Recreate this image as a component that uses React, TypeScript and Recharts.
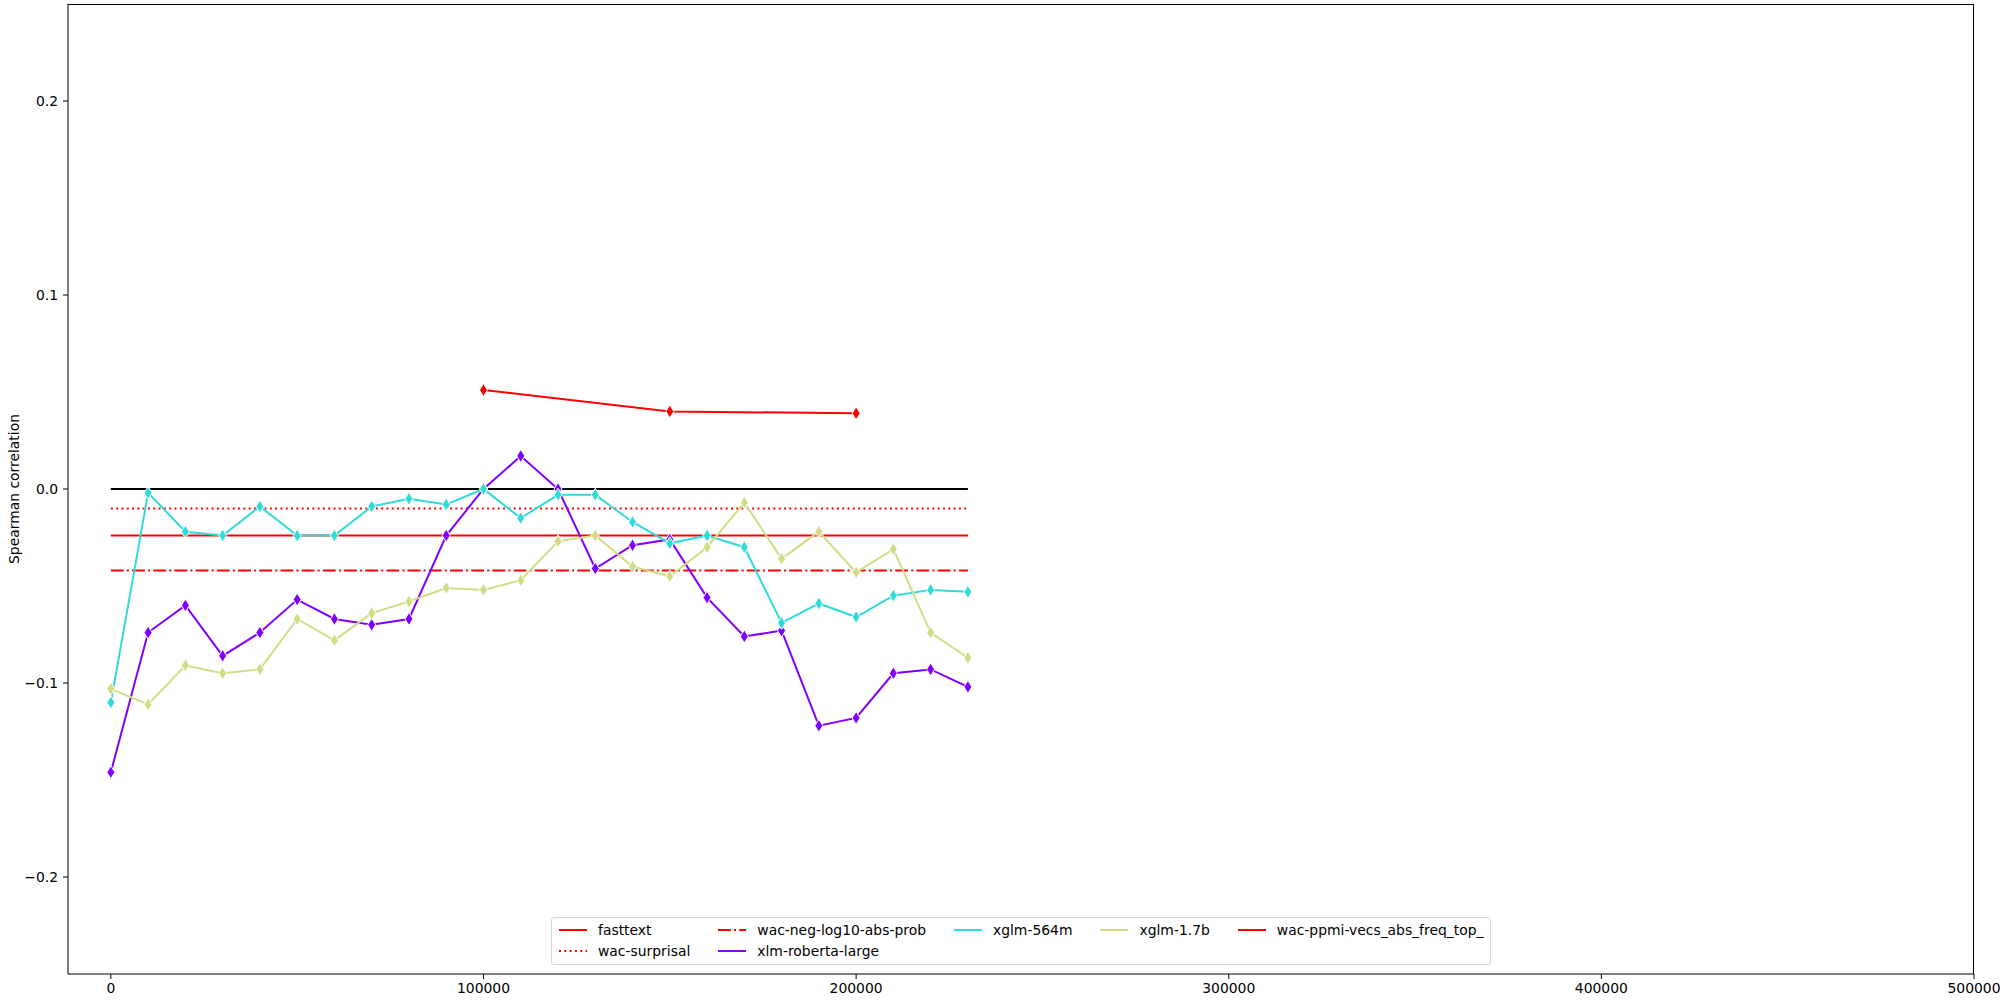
import React from 'react';
import { LineChart, Line, XAxis, YAxis } from 'recharts';

// checkpoints (x) for the model series
const steps = [0, 10000, 20000, 30000, 40000, 50000, 60000, 70000, 80000, 90000, 100000, 110000,
  120000, 130000, 140000, 150000, 160000, 170000, 180000, 190000, 200000, 210000, 220000, 230000];

const xlmRoberta = [-0.146, -0.074, -0.060, -0.086, -0.074, -0.057, -0.067, -0.070, -0.067, -0.024, 0.000, 0.017,
  0.000, -0.041, -0.029, -0.026, -0.056, -0.076, -0.073, -0.122, -0.118, -0.095, -0.093, -0.102];
const xglm564m = [-0.110, -0.002, -0.022, -0.024, -0.009, -0.024, -0.024, -0.009, -0.005, -0.008, 0.000, -0.015,
  -0.003, -0.003, -0.017, -0.028, -0.024, -0.030, -0.069, -0.059, -0.066, -0.055, -0.052, -0.053];
const xglm17b = [-0.103, -0.111, -0.091, -0.095, -0.093, -0.067, -0.078, -0.064, -0.058, -0.051, -0.052, -0.047,
  -0.027, -0.024, -0.040, -0.045, -0.030, -0.007, -0.036, -0.022, -0.043, -0.031, -0.074, -0.087];

const ppmiSteps = [100000, 150000, 200000];
const ppmiValues = [0.051, 0.040, 0.039];

// flat baselines drawn across the checkpoint range
const baselineSpan = [0, 230000];
const zeroLine = 0;
const fasttext = -0.024;
const wacSurprisal = -0.010;
const wacNegLog = -0.042;

const xTicks = [0, 100000, 200000, 300000, 400000, 500000];
const yTicks = [-0.2, -0.1, 0, 0.1, 0.2];

const PURPLE = '#8000ff';
const CYAN = '#2fdcd8';
const KHAKI = '#d3dc84';
const RED = '#ff0000';

const FONT = 'DejaVu Sans, sans-serif';

const toPoints = (xs: number[], ys: number[]) => xs.map((x, i) => ({ x, y: ys[i] }));
const flat = (v: number) => baselineSpan.map((x) => ({ x, y: v }));

const thinDiamond = (color: string) => (p: any) => {
  const { cx, cy, index } = p;
  if (cx == null || cy == null) return <g key={index} />;
  const h = 6.5;
  const w = 4;
  return (
    <path
      key={index}
      d={`M${cx},${cy - h} L${cx + w},${cy} L${cx},${cy + h} L${cx - w},${cy} Z`}
      fill={color}
      stroke="#ffffff"
      strokeWidth={1}
    />
  );
};

const legendCols = [
  [
    { name: 'fasttext', color: RED, dash: undefined },
    { name: 'wac-surprisal', color: RED, dash: '2 3.3' },
  ],
  [
    { name: 'wac-neg-log10-abs-prob', color: RED, dash: '12.8 3.2 2 3.2' },
    { name: 'xlm-roberta-large', color: PURPLE, dash: undefined },
  ],
  [{ name: 'xglm-564m', color: CYAN, dash: undefined }],
  [{ name: 'xglm-1.7b', color: KHAKI, dash: undefined }],
  [{ name: 'wac-ppmi-vecs_abs_freq_top_', color: RED, dash: undefined }],
];

const MplLegend = () => (
  <div
    style={{
      position: 'absolute',
      left: 551,
      top: 917,
      display: 'flex',
      gap: 28,
      padding: '4px 7px 5px 7px',
      border: '1px solid #d6d6d6',
      borderRadius: 3,
      background: 'rgba(255,255,255,0.8)',
      fontFamily: FONT,
      fontSize: 13.9,
      color: '#000',
    }}
  >
    {legendCols.map((col, ci) => (
      <div key={ci} style={{ display: 'flex', flexDirection: 'column', gap: 5 }}>
        {col.map((item) => (
          <div key={item.name} style={{ display: 'flex', alignItems: 'center', height: 16 }}>
            <svg width={28} height={10} style={{ marginRight: 11 }}>
              <line x1={0} y1={5} x2={28} y2={5} stroke={item.color} strokeWidth={2} strokeDasharray={item.dash} />
            </svg>
            <span style={{ whiteSpace: 'nowrap' }}>{item.name}</span>
          </div>
        ))}
      </div>
    ))}
  </div>
);

const YLabel = () => (
  <text
    x={14}
    y={489}
    transform="rotate(-90 14 489)"
    textAnchor="middle"
    dominantBaseline="central"
    fontFamily={FONT}
    fontSize={13.9}
    fill="#000"
  >
    Spearman correlation
  </text>
);

const fmtY = (v: number) => (v < 0 ? '\u2212' + Math.abs(v).toFixed(1) : v.toFixed(1));

export default function App() {
  const tick = { fontFamily: FONT, fontSize: 13.9, fill: '#000' };
  return (
    <div style={{ position: 'absolute', left: 0, top: 0, width: 2000, height: 1000, background: '#fff' }}>
      <LineChart width={2000} height={1000} margin={{ top: 4, right: 26, bottom: 0, left: 0 }}>
        <XAxis
          type="number"
          dataKey="x"
          domain={[-11500, 500000]}
          ticks={xTicks}
          allowDataOverflow
          height={26}
          tick={tick}
          tickSize={5}
          tickMargin={4}
          stroke="#000"
          tickLine={{ stroke: '#000' }}
          axisLine={{ stroke: '#000' }}
        />
        <YAxis
          type="number"
          dataKey="y"
          domain={[-0.25, 0.25]}
          ticks={yTicks}
          allowDataOverflow
          width={68}
          tick={tick}
          tickSize={5}
          tickMargin={5}
          tickFormatter={fmtY}
          stroke="#000"
          label={{ content: () => <YLabel /> }}
        />
        <Line data={flat(zeroLine)} dataKey="y" stroke="#000" strokeWidth={2} dot={false} isAnimationActive={false} legendType="none" />
        <Line data={flat(fasttext)} dataKey="y" name="fasttext" stroke={RED} strokeWidth={2} dot={false} isAnimationActive={false} />
        <Line data={flat(wacSurprisal)} dataKey="y" name="wac-surprisal" stroke={RED} strokeWidth={2} strokeDasharray="2 3.3" dot={false} isAnimationActive={false} />
        <Line data={flat(wacNegLog)} dataKey="y" name="wac-neg-log10-abs-prob" stroke={RED} strokeWidth={2} strokeDasharray="12.8 3.2 2 3.2" dot={false} isAnimationActive={false} />
        <Line data={toPoints(steps, xlmRoberta)} dataKey="y" name="xlm-roberta-large" stroke={PURPLE} strokeWidth={2} dot={thinDiamond(PURPLE)} isAnimationActive={false} />
        <Line data={toPoints(steps, xglm564m)} dataKey="y" name="xglm-564m" stroke={CYAN} strokeWidth={2} dot={thinDiamond(CYAN)} isAnimationActive={false} />
        <Line data={toPoints(steps, xglm17b)} dataKey="y" name="xglm-1.7b" stroke={KHAKI} strokeWidth={2} dot={thinDiamond(KHAKI)} isAnimationActive={false} />
        <Line data={toPoints(ppmiSteps, ppmiValues)} dataKey="y" name="wac-ppmi-vecs_abs_freq_top_" stroke={RED} strokeWidth={2} dot={thinDiamond(RED)} isAnimationActive={false} />
      </LineChart>
      <MplLegend />
      {/* top and right spines */}
      <div
        style={{
          position: 'absolute',
          left: 68,
          top: 4,
          width: 2000 - 26 - 68,
          height: 1000 - 26 - 4,
          borderTop: '1px solid #000',
          borderRight: '1px solid #000',
          boxSizing: 'border-box',
          pointerEvents: 'none',
        }}
      />
    </div>
  );
}
